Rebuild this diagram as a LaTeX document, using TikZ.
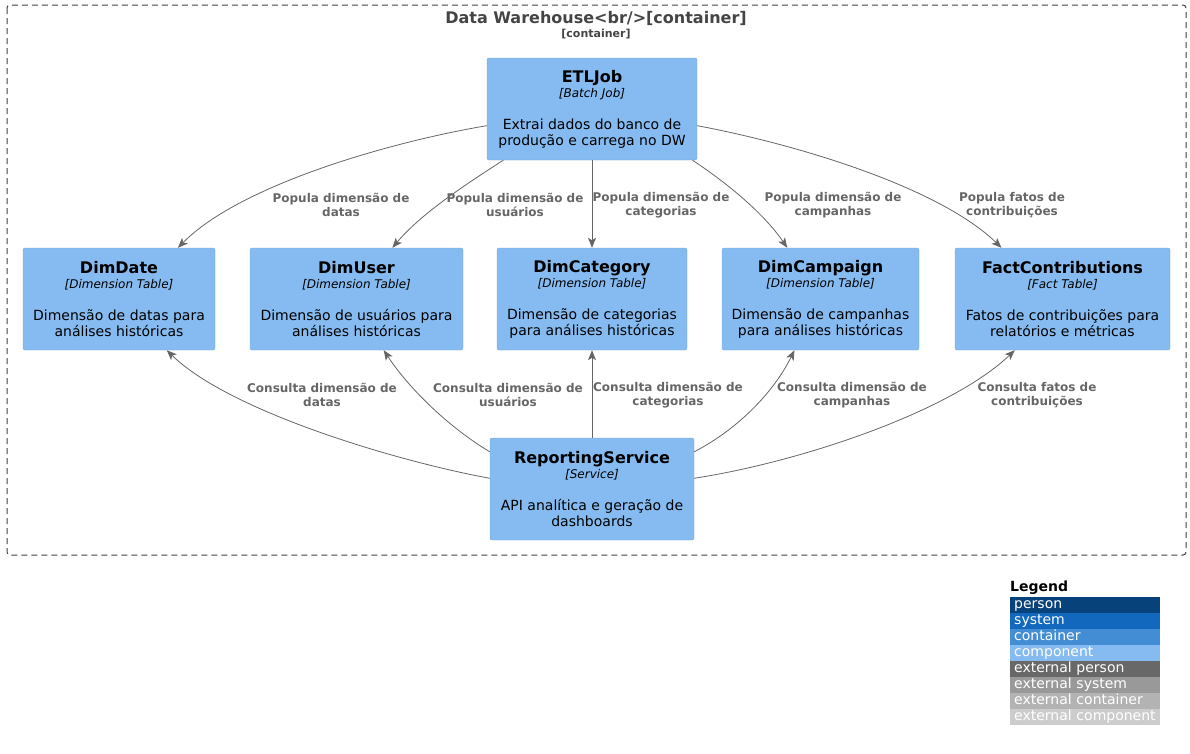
\documentclass[tikz,border=0pt]{standalone}
\usepackage{fontspec}
\setmainfont{DejaVu Sans}
\usepackage{tikz}
\usetikzlibrary{arrows.meta,shapes,calc,positioning}
\definecolor{compfill}{HTML}{85BBF0}
\definecolor{compline}{HTML}{78A8D8}
\definecolor{relgray}{HTML}{666666}
\definecolor{boundgray}{HTML}{444444}
\definecolor{lgperson}{HTML}{08427B}
\definecolor{lgsystem}{HTML}{1168BD}
\definecolor{lgcontainer}{HTML}{438DD5}
\definecolor{lgcomponent}{HTML}{85BBF0}
\definecolor{lgextperson}{HTML}{686868}
\definecolor{lgextsystem}{HTML}{999999}
\definecolor{lgextcontainer}{HTML}{B3B3B3}
\definecolor{lgextcomponent}{HTML}{CCCCCC}
\newcommand\comptext[3]{% name, type, description
  {\fontsize{16}{18}\selectfont\bfseries #1}\\[-1pt]
  {\fontsize{12}{14}\selectfont\itshape [#2]}\\[16pt]
  #3
}
\tikzset{
    % Define standard arrow tip
    >={Stealth[length=10pt,width=8pt,inset=2.5pt]},
    % component box
    comp/.style={
           draw=compline,
           fill=compfill,
           rounded corners=2pt,
           align=center,
           inner sep=0pt,
           font=\fontsize{14}{16}\selectfont,
           },
    % relation
    rel/.style={
           ->,
           relgray,
           line width=0.8pt,
           },
    lbl/.style={
           text=relgray,
           align=center,
           font=\fontsize{12}{14}\selectfont\bfseries,
           },
    legrow/.style={
           anchor=west,
           text width=142pt,
           align=left,
           minimum height=16pt,
           text height=10.5pt,
           text depth=3pt,
           inner xsep=4pt,
           inner ysep=1pt,
           text=white,
           font=\fontsize{14}{15}\selectfont,
           },
}

\begin{document}
\begin{tikzpicture}[x=1pt,y=-1pt]
  \useasboundingbox (0,0) rectangle (1190,753);
  % boundary
  \draw[black!75, dash pattern=on 6pt off 4pt, rounded corners=3pt, line width=1pt] (7,5) rectangle (1186,555);
  \node (bt) at (596,18) [text=boundgray, font=\fontsize{16}{18}\selectfont\bfseries] {Data Warehouse<br/>[container]};
  \node (bs) at (596,34) [text=boundgray, font=\fontsize{11}{13}\selectfont\bfseries] {[container]};
  % components
  \node (etl) at (592,109) [comp, minimum width=210pt, minimum height=102pt] {\comptext{ETLJob}{Batch Job}{Extrai dados do banco de\\produção e carrega no DW}};
  \node (dimdate) at (119,299) [comp, minimum width=192pt, minimum height=102pt] {\comptext{DimDate}{Dimension Table}{Dimensão de datas para\\análises históricas}};
  \node (dimuser) at (356.5,299) [comp, minimum width=213pt, minimum height=102pt] {\comptext{DimUser}{Dimension Table}{Dimensão de usuários para\\análises históricas}};
  \node (dimcat) at (592,299) [comp, minimum width=190pt, minimum height=102pt] {\comptext{DimCategory}{Dimension Table}{Dimensão de categorias\\para análises históricas}};
  \node (dimcamp) at (820.5,299) [comp, minimum width=197pt, minimum height=102pt] {\comptext{DimCampaign}{Dimension Table}{Dimensão de campanhas\\para análises históricas}};
  \node (fact) at (1062.5,299) [comp, minimum width=215pt, minimum height=102pt] {\comptext{FactContributions}{Fact Table}{Fatos de contribuições para\\relatórios e métricas}};
  \node (report) at (592,489) [comp, minimum width=204pt, minimum height=102pt] {\comptext{ReportingService}{Service}{API analítica e geração de\\dashboards}};
  % relations from ETLJob
  \draw [rel] (etl.189) .. controls (390,142) and (240,185) .. (dimdate.41);
  \draw [rel] (etl.210) .. controls (460,188) and (420,215) .. (dimuser.55);
  \draw [rel] (etl.south) -- (dimcat.north);
  \draw [rel] (etl.-27) .. controls (730,185) and (765,215) .. (dimcamp.123);
  \draw [rel] (etl.-9) .. controls (800,145) and (940,188) .. (fact.140);
  \node (l1) at (341,205) [lbl] {Popula dimensão de\\datas};
  \node (l2) at (515,205) [lbl] {Popula dimensão de\\usuários};
  \node (l3) at (661,205) [lbl] {Popula dimensão de\\categorias};
  \node (l4) at (833,205) [lbl] {Popula dimensão de\\campanhas};
  \node (l5) at (1012,205) [lbl] {Popula fatos de\\contribuições};
  % relations from ReportingService
  \draw [rel] (report.174) .. controls (400,462) and (230,412) .. (dimdate.-47);
  \draw [rel] (report.160) .. controls (450,428) and (410,390) .. (dimuser.-62);
  \draw [rel] (report.north) -- (dimcat.south);
  \draw [rel] (report.20) .. controls (740,428) and (775,390) .. (dimcamp.-117);
  \draw [rel] (report.6) .. controls (800,462) and (950,412) .. (fact.-133);
  \node (l6) at (322,395) [lbl] {Consulta dimensão de\\datas};
  \node (l7) at (508,395) [lbl] {Consulta dimensão de\\usuários};
  \node (l8) at (668,395) [lbl] {Consulta dimensão de\\categorias};
  \node (l9) at (852,395) [lbl] {Consulta dimensão de\\campanhas};
  \node (l10) at (1037,395) [lbl] {Consulta fatos de\\contribuições};
  % legend
  \node (leg) at (1008,588) [anchor=west, inner sep=2pt, font=\fontsize{14}{16}\selectfont\bfseries] {Legend};
  \node (lg1) at (1010,605) [legrow, fill=lgperson] {person};
  \node (lg2) at (1010,621) [legrow, fill=lgsystem] {system};
  \node (lg3) at (1010,637) [legrow, fill=lgcontainer] {container};
  \node (lg4) at (1010,653) [legrow, fill=lgcomponent] {component};
  \node (lg5) at (1010,669) [legrow, fill=lgextperson] {external person};
  \node (lg6) at (1010,685) [legrow, fill=lgextsystem] {external system};
  \node (lg7) at (1010,701) [legrow, fill=lgextcontainer] {external container};
  \node (lg8) at (1010,717) [legrow, fill=lgextcomponent] {external component};
\end{tikzpicture}
\end{document}
